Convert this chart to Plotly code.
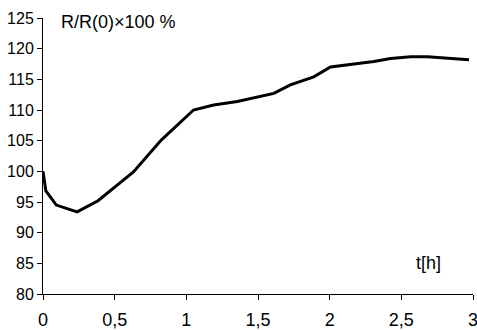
import plotly.graph_objects as go

# time in hours
t_hours = [0.0, 0.02, 0.093, 0.238, 0.384, 0.631, 0.825, 1.05, 1.19, 1.356,
           1.61, 1.726, 1.889, 2.006, 2.308, 2.425, 2.565, 2.681, 2.972]
# relative resistance R/R(0) in percent
r_percent = [100.0, 96.8, 94.5, 93.4, 95.2, 99.9, 105.1, 110.0, 110.8, 111.4,
             112.7, 114.1, 115.4, 117.0, 117.9, 118.4, 118.7, 118.7, 118.2]

x_ticks = [0, 0.5, 1, 1.5, 2, 2.5, 3]
x_tick_text = ["0", "0,5", "1", "1,5", "2", "2,5", "3"]
y_ticks = [80, 85, 90, 95, 100, 105, 110, 115, 120, 125]

W, H = 477, 330
ML, MR, MT, MB = 43, 4, 18, 36
PW, PH = W - ML - MR, H - MT - MB

FAMILY = "Liberation Sans, Arial, sans-serif"


def paper_x(px):
    return (px - ML) / PW


def paper_y(py):
    return (H - MB - py) / PH


fig = go.Figure(go.Scatter(
    x=t_hours, y=r_percent, mode="lines",
    line=dict(color="black", width=3), hoverinfo="skip",
))

fig.update_layout(
    width=W, height=H,
    margin=dict(l=ML, r=MR, t=MT, b=MB, autoexpand=False),
    paper_bgcolor="white", plot_bgcolor="white",
    showlegend=False, font=dict(family=FAMILY, size=16, color="black"),
    xaxis=dict(
        range=[0, 3], tickvals=x_ticks, ticktext=x_tick_text,
        showline=True, linecolor="black", linewidth=1,
        ticks="outside", ticklen=5, tickcolor="black", tickwidth=1,
        showgrid=False, zeroline=False, ticklabelstandoff=4,
        ticklabeloverflow="allow", automargin=False,
        tickfont=dict(family=FAMILY, size=18, color="black"),
    ),
    yaxis=dict(
        range=[80, 125], tickvals=y_ticks,
        showline=True, linecolor="black", linewidth=1,
        ticks="outside", ticklen=5, tickcolor="black", tickwidth=1,
        showgrid=False, zeroline=False, ticklabelstandoff=0,
        ticklabeloverflow="allow", automargin=False,
        tickfont=dict(family=FAMILY, size=16, color="black"),
    ),
    annotations=[
        dict(text="R/R(0)×100 %", xref="paper", yref="paper",
             x=paper_x(59), y=paper_y(22),
             xanchor="left", yanchor="middle", showarrow=False,
             font=dict(family=FAMILY, size=18, color="black")),
        dict(text="t[h]", xref="paper", yref="paper",
             x=paper_x(414), y=paper_y(263),
             xanchor="left", yanchor="middle", showarrow=False,
             font=dict(family=FAMILY, size=18, color="black")),
    ],
)

fig.write_html("out.html")
